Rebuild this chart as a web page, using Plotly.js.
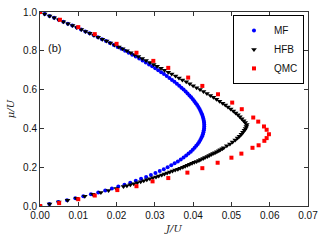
<!DOCTYPE html>
<html>
<head>
<meta charset="utf-8">
<script src="https://cdn.plot.ly/plotly-3.0.1.min.js"></script>
<style>html,body{margin:0;padding:0;background:#fff;}#chart{width:325px;height:245px;}</style>
</head>
<body>
<div id="chart"></div>
<script>
// Mean-field (MF) lobe: mu/U values and J/U values
var mfMu = [0.00,0.01,0.02,0.03,0.04,0.05,0.06,0.07,0.08,0.09,0.10,0.11,0.12,0.13,0.14,0.15,0.16,0.17,0.18,0.19,0.20,0.21,0.22,0.23,0.24,0.25,0.26,0.27,0.28,0.29,0.30,0.31,0.32,0.33,0.34,0.35,0.36,0.37,0.38,0.39,0.40,0.41,0.42,0.43,0.44,0.45,0.46,0.47,0.48,0.49,0.50,0.51,0.52,0.53,0.54,0.55,0.56,0.57,0.58,0.59,0.60,0.61,0.62,0.63,0.64,0.65,0.66,0.67,0.68,0.69,0.70,0.71,0.72,0.73,0.74,0.75,0.76,0.77,0.78,0.79,0.80,0.81,0.82,0.83,0.84,0.85,0.86,0.87,0.88,0.89,0.90,0.91,0.92,0.93,0.94,0.95,0.96,0.97,0.98,0.99,1.00];
var mfJ = [0,0.00245,0.00480,0.00706,0.00923,0.01131,0.01330,0.01521,0.01704,0.01878,0.02045,0.02205,0.02357,0.02502,0.02640,0.02772,0.02897,0.03015,0.03127,0.03233,0.03333,0.03428,0.03516,0.03600,0.03677,0.03750,0.03818,0.03880,0.03938,0.03990,0.04038,0.04082,0.04121,0.04156,0.04187,0.04213,0.04235,0.04254,0.04268,0.04279,0.04286,0.04289,0.04289,0.04285,0.04278,0.04267,0.04253,0.04236,0.04216,0.04193,0.04167,0.04137,0.04105,0.04070,0.04033,0.03992,0.03949,0.03903,0.03854,0.03804,0.03750,0.03694,0.03636,0.03575,0.03512,0.03447,0.03380,0.03310,0.03238,0.03164,0.03088,0.03010,0.02930,0.02848,0.02764,0.02679,0.02591,0.02501,0.02410,0.02317,0.02222,0.02126,0.02028,0.01928,0.01826,0.01723,0.01618,0.01512,0.01404,0.01295,0.01184,0.01072,0.00958,0.00843,0.00727,0.00609,0.00490,0.00369,0.00248,0.00124,0];

// HFB lobe
var hfbMu = [0.00,0.01,0.02,0.03,0.04,0.05,0.06,0.07,0.08,0.09,0.10,0.105,0.11,0.115,0.12,0.125,0.13,0.135,0.14,0.145,0.15,0.155,0.16,0.165,0.17,0.175,0.18,0.185,0.19,0.195,0.20,0.205,0.21,0.215,0.22,0.225,0.23,0.235,0.24,0.245,0.25,0.255,0.26,0.265,0.27,0.275,0.28,0.285,0.29,0.295,0.30,0.31,0.32,0.33,0.34,0.35,0.36,0.37,0.38,0.39,0.40,0.41,0.42,0.43,0.44,0.45,0.46,0.47,0.48,0.49,0.50,0.51,0.52,0.53,0.54,0.55,0.56,0.57,0.58,0.59,0.60,0.61,0.62,0.63,0.64,0.65,0.66,0.67,0.68,0.69,0.70,0.71,0.72,0.73,0.74,0.75,0.76,0.77,0.78,0.79,0.80,0.81,0.82,0.83,0.84,0.85,0.86,0.87,0.88,0.89,0.90,0.91,0.92,0.93,0.94,0.95,0.96,0.97,0.98,0.99,1.00];
var hfbJ = [0,0.0025,0.0049,0.0072,0.0095,0.0117,0.0138,0.0159,0.0179,0.0199,0.0218,0.0227,0.0236,0.0245,0.0254,0.0263,0.0271,0.0279,0.0287,0.0295,0.0303,0.0310,0.0318,0.0325,0.0332,0.0339,0.0346,0.0353,0.0360,0.0366,0.0373,0.0379,0.0385,0.0391,0.0397,0.0403,0.0409,0.0415,0.0420,0.0426,0.0431,0.0437,0.0442,0.0447,0.0452,0.0457,0.0462,0.0467,0.0471,0.0476,0.0480,0.0488,0.0496,0.0503,0.0510,0.0516,0.0521,0.0526,0.0530,0.0534,0.0537,0.0539,0.0540,0.0536,0.0532,0.0527,0.0522,0.0517,0.0511,0.0505,0.0498,0.0491,0.0484,0.0477,0.0469,0.0461,0.0453,0.0445,0.0436,0.0427,0.0418,0.0409,0.0400,0.0391,0.0382,0.0372,0.0363,0.0354,0.0344,0.0335,0.0325,0.0316,0.0306,0.0297,0.0287,0.0277,0.0267,0.0257,0.0247,0.0237,0.0227,0.0216,0.0206,0.0195,0.0184,0.0174,0.0163,0.0152,0.0141,0.0130,0.0119,0.0108,0.0096,0.0085,0.0073,0.0061,0.0049,0.0037,0.0025,0.0012,0];

// QMC points
var qmcJ = [0,0.0050,0.0100,0.0143,0.0202,0.0252,0.0294,0.0335,0.0385,0.0424,0.0464,0.0500,0.0526,0.0555,0.0571,0.0586,0.0592,0.0598,0.0592,0.0585,0.0570,0.0557,0.0527,0.0502,0.0465,0.0424,0.0387,0.0335,0.0296,0.0252,0.0200,0.0143,0.0100,0.0052,0];
var qmcMu = [0,0.015,0.035,0.054,0.082,0.102,0.127,0.144,0.172,0.195,0.223,0.249,0.270,0.300,0.313,0.336,0.350,0.370,0.393,0.410,0.435,0.456,0.499,0.533,0.576,0.619,0.662,0.712,0.748,0.790,0.836,0.886,0.922,0.960,1.0];

var seriesNames = ['MF','HFB','QMC'];

var traces = [
  {x: mfJ, y: mfMu, name: seriesNames[0], mode: 'markers', type: 'scatter',
   marker: {symbol: 'circle', size: 4, color: '#0000ff'}},
  {x: hfbJ, y: hfbMu, name: seriesNames[1], mode: 'markers', type: 'scatter',
   marker: {symbol: 'triangle-down', size: 5, color: '#000000'}},
  {x: qmcJ, y: qmcMu, name: seriesNames[2], mode: 'markers', type: 'scatter',
   marker: {symbol: 'square', size: 4, color: '#ff0000'}}
];

var axisCommon = {
  showgrid: false, zeroline: false, showline: true, mirror: 'ticks',
  linecolor: '#333', linewidth: 1, ticks: 'inside', ticklen: 4, tickcolor: '#333',
  tickfont: {family: 'Liberation Sans, Arial, sans-serif', size: 10, color: '#111'}
};

var layout = {
  width: 325, height: 245,
  margin: {l: 40, r: 17, t: 12, b: 39},
  paper_bgcolor: '#fff', plot_bgcolor: '#fff',
  showlegend: true,
  legend: {x: 0.985, y: 0.985, xanchor: 'right', yanchor: 'top',
    bgcolor: '#fff', bordercolor: '#000', borderwidth: 1,
    font: {family: 'Liberation Sans, Arial, sans-serif', size: 10, color: '#111'},
    itemwidth: 30, tracegroupgap: 0},
  xaxis: Object.assign({}, axisCommon, {range: [0, 0.07], dtick: 0.01, tick0: 0, tickformat: '.2f',
    title: {text: '<i>J/U</i>', font: {family: 'DejaVu Serif, serif', size: 10, color: '#222'}, standoff: 4}}),
  yaxis: Object.assign({}, axisCommon, {range: [0, 1], dtick: 0.2, tick0: 0, tickformat: '.1f',
    title: {text: '<i>μ/U</i>', font: {family: 'DejaVu Serif, serif', size: 10, color: '#222'}, standoff: 6}}),
  annotations: [{x: 0.0039, y: 0.814, xref: 'x', yref: 'y', text: '(b)', showarrow: false,
    font: {family: 'Liberation Sans, Arial, sans-serif', size: 11, color: '#111'}}]
};

Plotly.newPlot('chart', traces, layout, {displayModeBar: false, staticPlot: true});
</script>
</body>
</html>
